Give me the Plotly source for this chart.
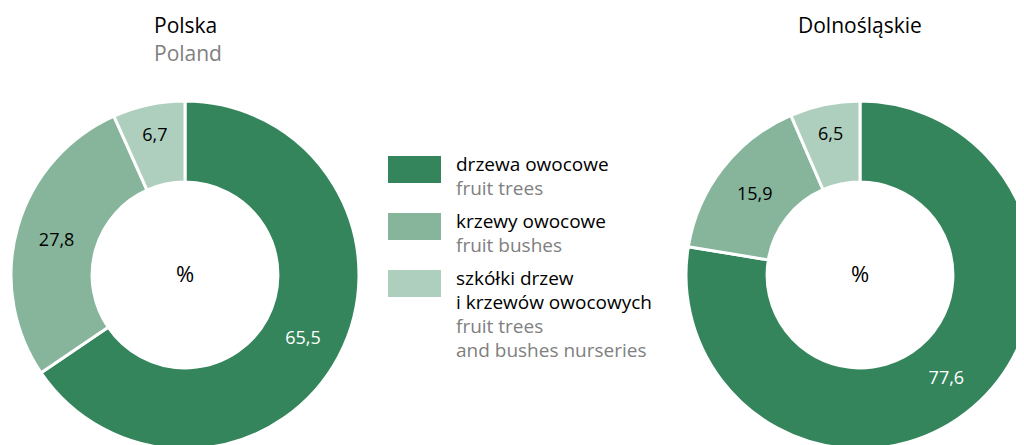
import plotly.graph_objects as go

# ---- data ----
categories = ["drzewa owocowe", "krzewy owocowe", "szkółki drzew i krzewów owocowych"]
polska = [65.5, 27.8, 6.7]
dolnoslaskie = [77.6, 15.9, 6.5]
legend_pl = [["drzewa owocowe"], ["krzewy owocowe"], ["szkółki drzew", "i krzewów owocowych"]]
legend_en = [["fruit trees"], ["fruit bushes"], ["fruit trees", "and bushes nurseries"]]
titles = [("Polska", "Poland"), ("Dolnośląskie", "")]

# ---- style ----
colors = ["#35855C", "#86B59C", "#AECFBE"]
text_colors = ["#FFFFFF", "#000000", "#000000"]
GRAY = "#808080"
FONT = "Open Sans"
W, H = 1040, 445          # figure size (page body has an 8px margin; viewport clips the rest)
OFF = 8
R = 174
HOLE = 0.534
CY = 275                   # donut centre (page px)
CX = [185, 860]


def px_x(x):
    return (x - OFF) / W


def px_y(y):
    return 1 - (y - OFF) / H


fig = go.Figure()

for vals, cx in zip([polska, dolnoslaskie], CX):
    dom = dict(x=[px_x(cx - R), px_x(cx + R)], y=[px_y(CY + R), px_y(CY - R)])
    fig.add_trace(go.Pie(
        labels=categories,
        values=vals,
        domain=dom,
        hole=HOLE,
        sort=False,
        direction="clockwise",
        rotation=0,
        marker=dict(colors=colors, line=dict(color="white", width=3)),
        texttemplate="%{value:.1f}",
        textposition="inside",
        insidetextorientation="horizontal",
        textfont=dict(color=text_colors, size=18, family=FONT),
        title=dict(text="%", position="middle center", font=dict(size=22, color="black", family=FONT)),
        hoverinfo="skip",
        showlegend=False,
    ))

annotations = []
# titles
title_dx = [(0, 3), (0, 0)]
for (pl, en), cx, (d1, d2) in zip(titles, CX, title_dx):
    annotations.append(dict(x=px_x(cx + d1), y=px_y(25), xref="paper", yref="paper", text=pl,
                            showarrow=False, xanchor="center", yanchor="middle",
                            font=dict(size=21, color="black", family=FONT)))
    if en:
        annotations.append(dict(x=px_x(cx + d2), y=px_y(53), xref="paper", yref="paper", text=en,
                                showarrow=False, xanchor="center", yanchor="middle",
                                font=dict(size=21, color=GRAY, family=FONT)))

# custom legend
shapes = []
sw_top = [156, 213, 270]
line_h = 24
for i, (pl_lines, en_lines) in enumerate(zip(legend_pl, legend_en)):
    top = sw_top[i]
    shapes.append(dict(type="rect", xref="paper", yref="paper",
                       x0=px_x(388), x1=px_x(441), y0=px_y(top + 27), y1=px_y(top),
                       fillcolor=colors[i], line=dict(width=0)))
    y = top + 8
    for ln in pl_lines:
        annotations.append(dict(x=px_x(454), y=px_y(y), xref="paper", yref="paper", text=ln,
                                showarrow=False, xanchor="left", yanchor="middle",
                                font=dict(size=19, color="black", family=FONT)))
        y += line_h
    for ln in en_lines:
        annotations.append(dict(x=px_x(454), y=px_y(y), xref="paper", yref="paper", text=ln,
                                showarrow=False, xanchor="left", yanchor="middle",
                                font=dict(size=19, color=GRAY, family=FONT)))
        y += line_h

fig.update_layout(
    width=W, height=H,
    margin=dict(l=0, r=0, t=0, b=0),
    paper_bgcolor="white", plot_bgcolor="white",
    separators=", ",
    font=dict(family=FONT),
    annotations=annotations,
    shapes=shapes,
    showlegend=False,
)

fig.write_html("out.html")
